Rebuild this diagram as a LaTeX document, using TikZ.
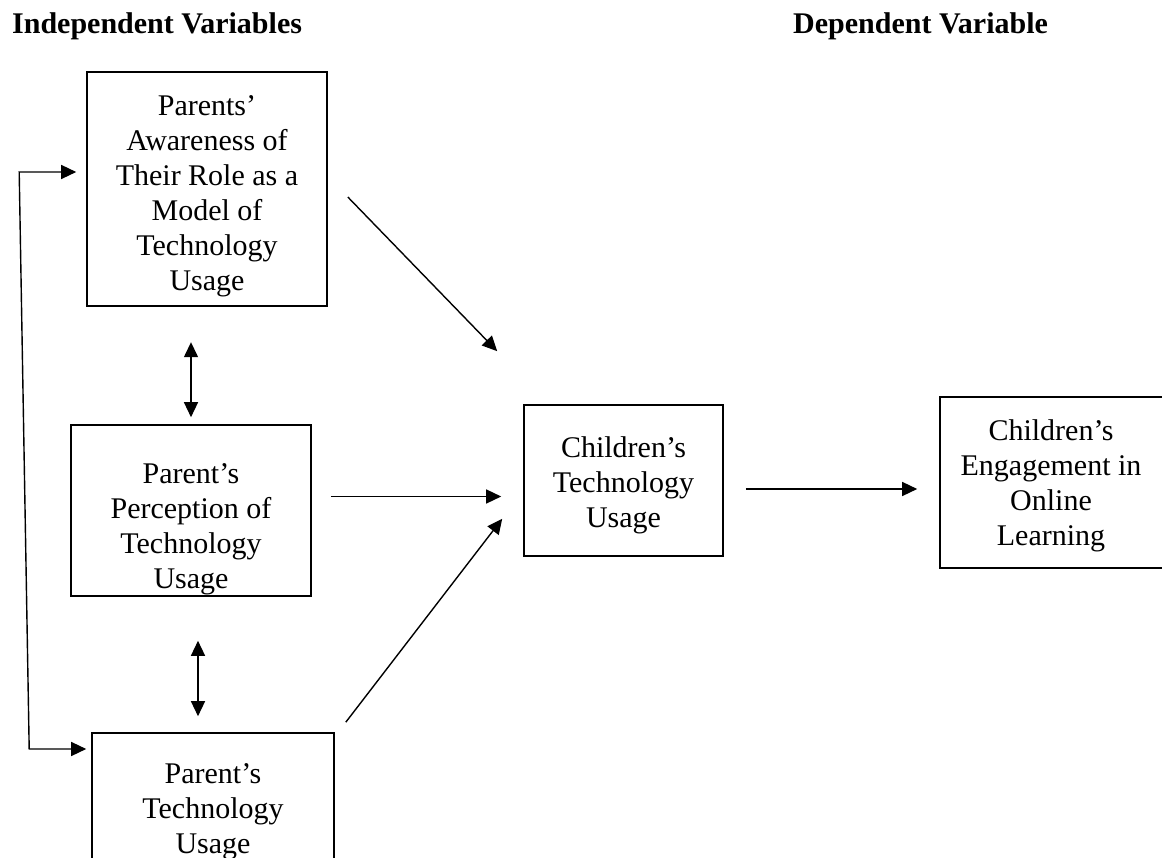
\documentclass[tikz,border=0pt]{standalone}
\usepackage{fontspec}
\setmainfont{Liberation Serif}
\usepackage{tikz}
\usetikzlibrary{positioning, arrows.meta, calc}
\usepackage{xcolor}

\newcommand{\boxfont}{\fontsize{30}{35}\selectfont}

\tikzset{
  varbox/.style={draw, line width=1.6pt, inner sep=0pt},
  vartext/.style={font=\boxfont, align=center, inner sep=0pt},
  heading/.style={font=\boxfont\bfseries, anchor=base west, inner sep=0pt},
  link/.style={line width=1.4pt, -{Triangle[length=15pt,width=14pt]}},
  twoway/.style={line width=1.4pt, {Triangle[length=15pt,width=14pt]}-{Triangle[length=15pt,width=14pt]}}
}

\begin{document}
\begin{tikzpicture}[x=1pt, y=-1pt]
  \useasboundingbox (0,0) rectangle (1162,858);
  % Cadre conceptuel : variables independantes et dependante
  \node[heading] (indep) at (12,34) {Independent Variables};
  \node[heading] (dep) at (793,34) {Dependent Variable};

  \node[varbox, minimum width=240pt, minimum height=234pt] (A) at (207,189) {};
  \node[vartext] (A text) at (207,196) {Parents’\\Awareness of\\Their Role as a\\Model of\\Technology\\Usage};

  \node[varbox, minimum width=240pt, minimum height=171pt] (B) at (191,510.5) {};
  \node[vartext] (B text) at (191,529) {Parent’s\\Perception of\\Technology\\Usage};

  \node[varbox, minimum width=242pt, minimum height=157pt] (C) at (213,811.5) {};
  \node[vartext] (C text) at (213,811.5) {Parent’s\\Technology\\Usage};

  \node[varbox, minimum width=199pt, minimum height=151pt] (D) at (623.5,480.5) {};
  \node[vartext] (D text) at (623.5,485.5) {Children’s\\Technology\\Usage};

  \node[varbox, minimum width=250pt, minimum height=171pt] (E) at (1065,482.5) {};
  \node[vartext] (E text) at (1051,486) {Children’s\\Engagement in\\Online\\Learning};

  % fleches
  \draw[link] ($(A.east)+(20,8)$) -- ($(D.north west)+(-26,-53)$);
  \draw[link] ($(B.east)+(19,-14)$) -- ($(D.west)+(-22,16)$);
  \draw[link] ($(C.north east)+(11,-10)$) -- ($(D.south west)+(-21,-38)$);
  \draw[link] ($(D.east)+(22,8.5)$) -- ($(E.west)+(-22,6.5)$);

  \draw[twoway] ($(B.north)+(0,-82)$) -- ($(B.north)+(0,-7)$);
  \draw[twoway] ($(B.south)+(7,44)$) -- ($(C.north)+(-15,-16)$);

  \coordinate (loop top) at ($(A.west)+(-67,-17)$);
  \coordinate (loop bot) at ($(C.west)+(-62,-62.5)$);
  \draw[twoway] ($(A.west)+(-10,-17)$) -- (loop top) -- (loop bot) -- ($(C.west)+(-5,-62.5)$);
\end{tikzpicture}
\end{document}
